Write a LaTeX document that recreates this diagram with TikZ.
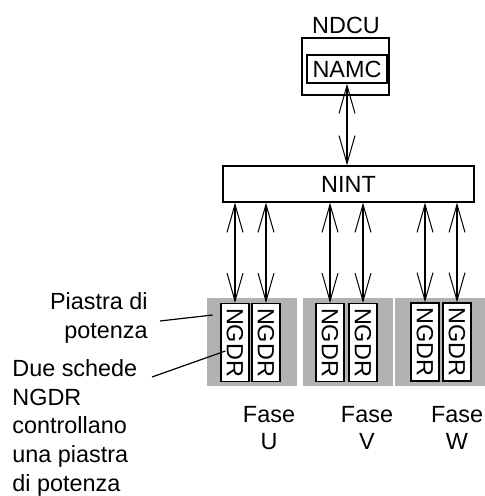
\documentclass[tikz,border=0pt]{standalone}
\usepackage{fontspec}
\setmainfont{Liberation Sans}
\usetikzlibrary{arrows.meta}
\definecolor{plategray}{RGB}{178,178,178}

\begin{document}
\begin{tikzpicture}[x=0.5pt,y=-0.5pt,
  every node/.style={font=\fontsize{11.7}{14.3}\selectfont, inner sep=0pt},
  unitbox/.style={draw, line width=0.6pt},
  plate/.style={fill=plategray, minimum width=45pt, minimum height=44pt},
  ngdr/.style={draw, fill=white, line width=0.6pt, minimum width=14pt, minimum height=39pt},
  link/.style={line width=1pt,
    {Straight Barb[length=14pt,width=8pt,line width=0.5pt]}-{Straight Barb[length=14pt,width=8pt,line width=0.5pt]}},
  leader/.style={line width=0.6pt}]
 \useasboundingbox (0,0) rectangle (485,496);
 % control unit
 \node[unitbox, minimum width=43.5pt, minimum height=28.5pt] (ndcu) at (345.5,66.5) {};
 \node[anchor=base] (ndculabel) at (346,34) {NDCU};
 \node[unitbox, minimum width=40pt, minimum height=14pt] (namc) at (347,69) {NAMC};
 \node[unitbox, minimum width=125.5pt, minimum height=18pt] (nint) at (348.5,184) {NINT};
 % power plates
 \node[plate] (plateU) at (252,342) {};
 \node[plate] (plateV) at (348,342) {};
 \node[plate] (plateW) at (440,341.5) {};
 \node[ngdr] (u1) at (235,342.5) {\rotatebox{-90}{NGDR}};
 \node[ngdr] (u2) at (266,342.5) {\rotatebox{-90}{NGDR}};
 \node[ngdr] (v1) at (330,342.5) {\rotatebox{-90}{NGDR}};
 \node[ngdr] (v2) at (363,342.5) {\rotatebox{-90}{NGDR}};
 \node[ngdr] (w1) at (425,342) {\rotatebox{-90}{NGDR}};
 \node[ngdr] (w2) at (457,342) {\rotatebox{-90}{NGDR}};
 % links
 \draw[link] (namc.south) -- (namc.south |- nint.north);
 \foreach \b in {u1,u2,v1,v2,w1,w2}
   \draw[link] (nint.south -| \b.north) -- (\b.north);
 % phases
 \node[align=center, font=\fontsize{11.7}{13.5}\selectfont] (faseU) at (269,428) {Fase\\U};
 \node[align=center, font=\fontsize{11.7}{13.5}\selectfont] (faseV) at (367,428) {Fase\\V};
 \node[align=center, font=\fontsize{11.7}{13.5}\selectfont] (faseW) at (457,428) {Fase\\W};
 % notes
 \node[align=right, anchor=base east] (piastra) at (148,338) {Piastra di\\potenza};
 \node[align=left, anchor=base west] (schede) at (12,491) {Due schede\\NGDR\\controllano\\una piastra\\di potenza};
 \coordinate (tagP) at (160,321);
 \coordinate (tagD) at (152,377);
 \draw[leader] (tagP) -- ([shift={(6,-27)}]plateU.west);
 \draw[leader] (tagD) -- ([shift={(5,8.5)}]u1.west);
\end{tikzpicture}
\end{document}
